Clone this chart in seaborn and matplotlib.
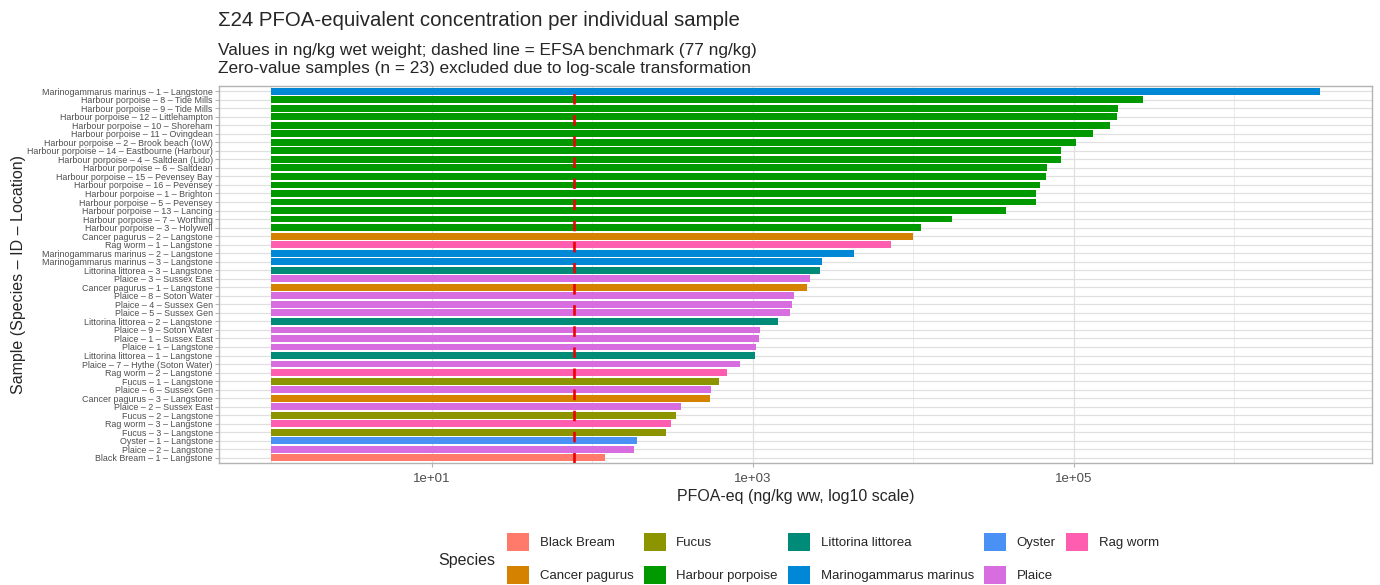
import numpy as np
import pandas as pd
import matplotlib
matplotlib.use("Agg")
import matplotlib.pyplot as plt
from matplotlib.ticker import FixedLocator, FixedFormatter
import seaborn as sns

# Samples, ordered from highest to lowest PFOA-equivalent concentration
species = [
    "Marinogammarus marinus", "Harbour porpoise", "Harbour porpoise", "Harbour porpoise",
    "Harbour porpoise", "Harbour porpoise", "Harbour porpoise", "Harbour porpoise",
    "Harbour porpoise", "Harbour porpoise", "Harbour porpoise", "Harbour porpoise",
    "Harbour porpoise", "Harbour porpoise", "Harbour porpoise", "Harbour porpoise",
    "Harbour porpoise", "Cancer pagurus", "Rag worm", "Marinogammarus marinus",
    "Marinogammarus marinus", "Littorina littorea", "Plaice", "Cancer pagurus",
    "Plaice", "Plaice", "Plaice", "Littorina littorea", "Plaice", "Plaice", "Plaice",
    "Littorina littorea", "Plaice", "Rag worm", "Fucus", "Plaice", "Cancer pagurus",
    "Plaice", "Fucus", "Rag worm", "Fucus", "Oyster", "Plaice", "Black Bream",
]
sample_ids = [
    1, 8, 9, 12, 10, 11, 2, 14, 4, 6, 15, 16, 1, 5, 13, 7, 3, 2, 1, 2, 3, 3, 3, 1,
    8, 4, 5, 2, 9, 1, 1, 1, 7, 2, 1, 6, 3, 2, 2, 3, 3, 1, 2, 1,
]
locations = [
    "Langstone", "Tide Mills", "Tide Mills", "Littlehampton", "Shoreham", "Ovingdean",
    "Brook beach (IoW)", "Eastbourne (Harbour)", "Saltdean (Lido)", "Saltdean",
    "Pevensey Bay", "Pevensey", "Brighton", "Pevensey", "Lancing", "Worthing",
    "Holywell", "Langstone", "Langstone", "Langstone", "Langstone", "Langstone",
    "Sussex East", "Langstone", "Soton Water", "Sussex Gen", "Sussex Gen", "Langstone",
    "Soton Water", "Sussex East", "Langstone", "Langstone", "Hythe (Soton Water)",
    "Langstone", "Langstone", "Sussex Gen", "Langstone", "Sussex East", "Langstone",
    "Langstone", "Langstone", "Langstone", "Langstone", "Langstone",
]
# Σ24 PFOA-equivalent concentration, ng/kg wet weight
pfoa_eq = [
    3420000, 273000, 190000, 186000, 170000, 132700, 103400, 83800, 83600, 68600,
    67200, 62000, 58200, 58000, 38100, 17400, 11180, 9930, 7270, 4260, 2720, 2630,
    2275, 2170, 1808, 1750, 1718, 1432, 1110, 1101, 1044, 1040, 838, 692, 617, 553,
    542, 356, 331, 308, 288, 190, 182, 120,
]
efsa_benchmark = 77

species_order = [
    "Black Bream", "Cancer pagurus", "Fucus", "Harbour porpoise", "Littorina littorea",
    "Marinogammarus marinus", "Oyster", "Plaice", "Rag worm",
]
species_colors = [
    "#FF7A6B", "#D48200", "#8C9400", "#009A00", "#008A78",
    "#0088D6", "#4A91F5", "#D86DE0", "#FF5EB0",
]
palette = dict(zip(species_order, species_colors))

labels = [f"{s} \u2013 {i} \u2013 {loc}" for s, i, loc in zip(species, sample_ids, locations)]
df = pd.DataFrame({
    "label": labels,
    "species": species,
    "value": pfoa_eq,
})
# ggplot-style log10 transform: bars grow from 10^0
df["log_value"] = np.log10(df["value"])

sns.set_style("white")
plt.rcParams["font.family"] = ["Liberation Sans", "DejaVu Sans"]

W, H = 1380, 585
fig = plt.figure(figsize=(W / 100, H / 100), dpi=100)
ax = fig.add_axes([219 / W, 1 - 463 / H, (1372 - 219) / W, (463 - 86) / H])

sns.barplot(
    data=df, y="label", x="log_value", hue="species", hue_order=species_order,
    order=labels, palette=palette, dodge=False, width=0.8, orient="h",
    saturation=1, linewidth=0, ax=ax, zorder=2,
)

# Benchmark line
ax.axvline(np.log10(efsa_benchmark), color="#F00000", lw=1.9,
           linestyle=(0, (4, 4)), zorder=4)

# Axes limits with 5% expansion on the transformed scale
lo, hi = 0.0, df["log_value"].max()
pad = 0.05 * (hi - lo)
ax.set_xlim(lo - pad, hi + pad)
ax.set_ylim(len(labels) - 1 + 0.6, -0.6)

ax.xaxis.set_major_locator(FixedLocator([1, 3, 5]))
ax.xaxis.set_major_formatter(FixedFormatter(["1e+01", "1e+03", "1e+05"]))
ax.xaxis.set_minor_locator(FixedLocator([0, 2, 4, 6]))

ax.set_axisbelow(True)
ax.grid(which="major", axis="both", color="#E0E0E0", lw=0.9)
ax.grid(which="minor", axis="x", color="#E6E6E6", lw=0.6)

ax.tick_params(axis="y", which="major", labelsize=6.4, labelcolor="#4D4D4D",
               color="#B3B3B3", length=3, width=0.8, pad=1.5, left=True)
ax.tick_params(axis="x", which="major", labelsize=9.5, labelcolor="#4D4D4D",
               color="#B3B3B3", length=3, width=0.8, pad=4.5, bottom=True)
ax.tick_params(axis="x", which="minor", length=0)

for sp in ax.spines.values():
    sp.set_visible(True)
    sp.set_color("#B3B3B3")
    sp.set_linewidth(1.0)

ax.set_xlabel("")
ax.set_ylabel("")

# Axis titles
fig.text((219 + 1372) / 2 / W, 1 - 496 / H, "PFOA-eq (ng/kg ww, log10 scale)",
         ha="center", va="center", fontsize=11.5)
fig.text(19 / W, 1 - 274.5 / H, "Sample (Species \u2013 ID \u2013 Location)",
         ha="center", va="center", rotation=90, fontsize=11.5)

# Titles
fig.text(218 / W, 1 - 20 / H, "\u03a324 PFOA-equivalent concentration per individual sample",
         ha="left", va="center", fontsize=14.7)
fig.text(218 / W, 1 - 50 / H,
         "Values in ng/kg wet weight; dashed line = EFSA benchmark (77 ng/kg)",
         ha="left", va="center", fontsize=12.4)
fig.text(218 / W, 1 - 69 / H,
         "Zero-value samples (n = 23) excluded due to log-scale transformation",
         ha="left", va="center", fontsize=12.4)

# Legend below the plot
handles, leg_labels = ax.get_legend_handles_labels()
if ax.get_legend() is not None:
    ax.get_legend().remove()
fig.legend(
    handles, leg_labels, ncol=5, loc="upper left",
    bbox_to_anchor=(507 / W, 1 - 533 / H), frameon=False, fontsize=9.5,
    handlelength=1.67, handleheight=1.67, handletextpad=0.8,
    columnspacing=0.78, labelspacing=1.2, borderpad=0, borderaxespad=0,
)
fig.text(438 / W, 1 - 560 / H, "Species", ha="left", va="center", fontsize=11.5)

fig.savefig("out.png", dpi=100, facecolor="white")
